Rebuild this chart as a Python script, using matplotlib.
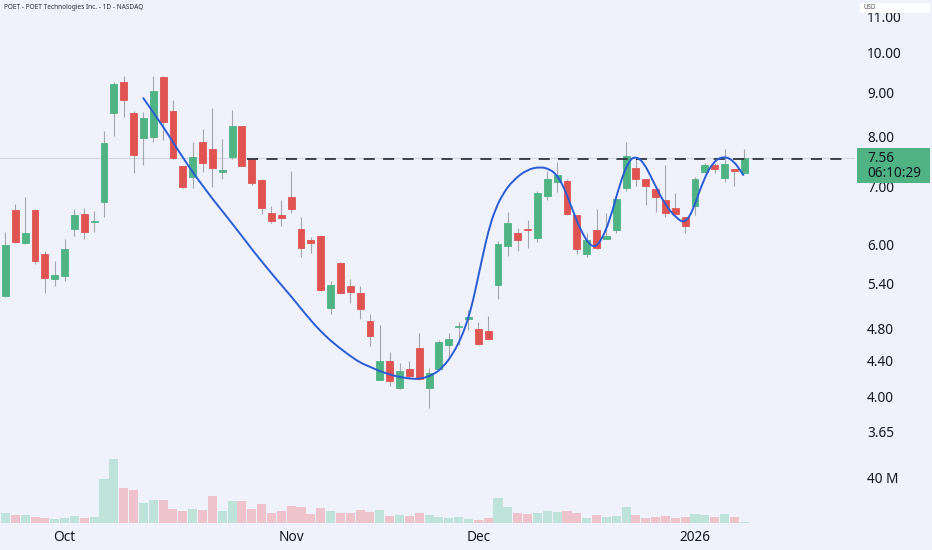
import matplotlib
matplotlib.use("Agg")
import matplotlib.pyplot as plt
from matplotlib.patches import Rectangle, PathPatch
from matplotlib.path import Path
import numpy as np

plt.rcParams['font.family'] = ['Noto Sans', 'DejaVu Sans']
plt.rcParams['lines.scale_dashes'] = False

# ---------------- data ----------------
opens = [5.23, 6.57, 6.03, 6.58, 5.85, 5.47, 5.52, 6.25, 6.50, 6.37,
         6.72, 8.52, 9.26, 8.51, 7.97, 7.99, 9.37, 8.55, 7.39, 7.19,
         7.89, 7.73, 7.27, 7.57, 8.22, 7.53, 7.12, 6.53, 6.49, 6.81,
         6.25, 6.07, 6.13, 5.07, 5.71, 5.37, 5.27, 4.89, 4.18, 4.40,
         4.09, 4.31, 4.55, 4.09, 4.30, 4.59, 4.81, 4.92, 4.79, 4.77,
         5.38, 5.97, 6.19, 6.25, 6.10, 6.82, 7.08, 7.10, 6.49, 5.85,
         6.24, 6.09, 6.23, 6.98, 7.36, 7.15, 6.95, 6.75, 6.61, 6.45,
         6.65, 7.28, 7.42, 7.17, 7.33, 7.26]
highs = [6.20, 6.68, 6.81, 6.59, 5.90, 5.74, 6.09, 6.59, 6.62, 6.56,
         8.11, 9.25, 9.41, 8.55, 8.53, 9.41, 9.41, 8.82, 7.39, 7.89,
         8.16, 8.64, 7.95, 8.59, 8.23, 7.55, 7.14, 6.65, 6.75, 7.30,
         6.46, 6.12, 6.14, 5.44, 5.72, 5.47, 5.37, 4.98, 4.84, 4.51,
         4.37, 4.40, 4.74, 4.32, 4.65, 4.74, 4.88, 5.04, 4.88, 4.96,
         6.06, 6.55, 6.27, 6.41, 6.92, 7.30, 7.47, 7.15, 6.49, 6.19,
         6.59, 6.52, 6.81, 7.89, 7.55, 7.15, 6.95, 7.41, 6.88, 6.45,
         7.18, 7.46, 7.46, 7.73, 7.33, 7.73]
lows = [5.22, 6.02, 6.01, 5.70, 5.27, 5.37, 5.44, 6.13, 6.08, 6.21,
        6.45, 8.01, 8.43, 7.26, 7.41, 7.89, 7.92, 7.53, 6.97, 6.98,
        7.28, 7.00, 7.14, 7.53, 7.39, 7.03, 6.51, 6.35, 6.30, 6.52,
        5.80, 5.87, 5.30, 4.98, 5.26, 5.13, 4.92, 4.58, 4.18, 4.11,
        4.08, 4.19, 4.18, 3.88, 4.29, 4.41, 4.59, 4.78, 4.59, 4.66,
        5.19, 5.82, 5.90, 5.95, 6.04, 6.75, 6.90, 6.49, 5.85, 5.80,
        5.92, 6.09, 6.18, 6.91, 7.02, 6.66, 6.55, 6.46, 6.51, 6.19,
        6.49, 7.27, 7.26, 7.09, 7.02, 7.24]
closes = [5.99, 6.04, 6.19, 5.74, 5.48, 5.53, 5.93, 6.49, 6.21, 6.39,
          7.87, 9.21, 8.82, 7.61, 8.41, 9.03, 8.32, 7.56, 6.99, 7.58,
          7.45, 7.36, 7.31, 8.23, 7.40, 7.06, 6.62, 6.38, 6.44, 6.59,
          5.94, 6.03, 5.31, 5.39, 5.27, 5.28, 5.05, 4.70, 4.40, 4.17,
          4.28, 4.23, 4.19, 4.26, 4.63, 4.67, 4.83, 4.94, 4.60, 4.67,
          6.00, 6.36, 6.07, 6.23, 6.89, 7.14, 7.22, 6.50, 5.93, 6.07,
          5.95, 6.13, 6.77, 7.60, 7.14, 7.01, 6.80, 6.53, 6.51, 6.31,
          7.15, 7.42, 7.33, 7.44, 7.29, 7.56]
volumes_m = [8.6, 6.8, 7.4, 5.6, 4.1, 3.3, 4.4, 6.2, 4.4, 5.3,
             38.8, 56.9, 31.1, 29.0, 18.1, 20.1, 20.4, 12.7, 10.7, 12.1,
             11.6, 24.3, 11.0, 19.3, 19.9, 12.1, 16.9, 9.2, 10.7, 15.1,
             14.2, 8.0, 13.3, 11.0, 8.9, 8.9, 11.3, 9.8, 11.3, 6.2,
             7.4, 6.5, 8.6, 6.8, 5.3, 4.7, 5.0, 3.9, 3.0, 4.4,
             21.9, 14.5, 8.9, 7.7, 9.2, 10.4, 9.5, 10.7, 9.2, 4.4,
             6.8, 5.0, 6.2, 13.9, 7.4, 4.7, 5.0, 5.9, 4.1, 5.0,
             8.0, 6.8, 5.6, 8.0, 5.3, 0.6]

month_pos = [6, 29, 48, 70]
month_labels = ["Oct", "Nov", "Dec", "2026"]
price_ticks = [11.00, 10.00, 9.00, 8.00, 7.00, 6.00, 5.40, 4.80, 4.40, 4.00, 3.65]

# hand-drawn curve annotation: control points (candle index, price)
curve_x = [13.99, 15.69, 17.38, 19.07, 21.10, 23.13, 25.16, 27.19,
           30.91, 31.93, 32.94, 33.96, 34.97, 35.99, 37.01, 38.02, 39.37, 40.73,
           42.08, 43.43, 44.45, 45.46, 46.31, 46.99, 47.49, 48.00, 48.51, 49.01,
           49.70, 50.54, 51.55, 52.91, 54.26, 55.28, 55.96, 56.60, 57.31, 58.32,
           59.51, 60.36, 61.37, 62.39, 63.23, 63.91, 64.75, 65.77, 66.95, 68.14,
           68.98, 69.83, 70.84, 71.86, 72.87, 73.88, 74.90]
curve_p = [8.86, 8.32, 7.75, 7.25, 6.75, 6.32, 5.89, 5.52,
           4.91, 4.77, 4.65, 4.55, 4.46, 4.38, 4.33, 4.28, 4.23, 4.20,
           4.19, 4.24, 4.33, 4.49, 4.69, 4.93, 5.18, 5.51, 5.86, 6.21,
           6.58, 6.88, 7.12, 7.32, 7.38, 7.33, 7.22, 7.02, 6.70, 6.24,
           5.94, 6.02, 6.40, 7.06, 7.48, 7.59, 7.48, 7.09, 6.67, 6.43,
           6.35, 6.58, 7.12, 7.48, 7.59, 7.51, 7.22]

resistance = 7.54
resistance_start = 24.5
last_price = 7.56

# ---------------- styling ----------------
BG = "#eff2fb"
GREEN = "#4fb383"
RED = "#df5450"
WICK = "#a3a6ad"
VGREEN = "#bfe3da"
VRED = "#eec3cb"
TXT = "#131722"
FS = 9.8

W, H = 932, 550
fig = plt.figure(figsize=(W / 100, H / 100), dpi=100, facecolor=BG)

ax_right_px, ax_bottom_px = 855, 526
pos = [0, 1 - ax_bottom_px / H, ax_right_px / W, ax_bottom_px / H]

axv = fig.add_axes(pos)
axv.set_facecolor(BG)
ax = fig.add_axes(pos)
ax.patch.set_alpha(0)

n = len(opens)
x = np.arange(n)
up = [c >= o for o, c in zip(opens, closes)]

# volume
axv.bar(x, volumes_m, width=0.92, color=[VGREEN if u else VRED for u in up],
        linewidth=0, zorder=1)
axv.set_xlim(-0.558, 86.24)
axv.set_ylim(-2.67, 464.9)
axv.yaxis.tick_right()
axv.set_yticks([40])
axv.set_yticklabels(["40 M"])
axv.tick_params(axis='y', length=0, pad=8.6, labelsize=FS, labelcolor=TXT)
axv.tick_params(axis='x', length=0, labelbottom=False)
for s in axv.spines.values():
    s.set_visible(False)

# price
ax.set_yscale('log')
ax.set_xlim(-0.558, 86.24)
ax.set_ylim(2.834, 11.507)

ax.axhline(last_price, color="#d3d7e0", linewidth=0.8, zorder=1)

ax.vlines(x, lows, highs, color=WICK, linewidth=0.8, zorder=2)
bottoms = [min(o, c) for o, c in zip(opens, closes)]
heights = [max(abs(c - o), 0.01) for o, c in zip(opens, closes)]
cols = [GREEN if u else RED for u in up]
ax.bar(x, heights, bottom=bottoms, width=0.7, color=cols, edgecolor=cols,
       linewidth=0.6, zorder=3)

ax.hlines(resistance, resistance_start, 85.2, colors="#2f343f", linewidth=1.3,
          linestyles=(0, (8, 6)), zorder=4)

# smooth curve: quadratic Bezier segments through the control points
verts = [(curve_x[0], curve_p[0])]
codes = [Path.MOVETO]
for k in range(1, len(curve_x) - 1):
    verts.append((curve_x[k], curve_p[k]))
    verts.append(((curve_x[k] + curve_x[k + 1]) / 2, (curve_p[k] + curve_p[k + 1]) / 2))
    codes += [Path.CURVE3, Path.CURVE3]
verts.append((curve_x[-1], curve_p[-1]))
codes.append(Path.LINETO)
ax.add_patch(PathPatch(Path(verts, codes), facecolor='none', edgecolor="#2a5bd7",
                       linewidth=1.4, zorder=5, capstyle='round', joinstyle='round'))

ax.yaxis.tick_right()
ax.yaxis.set_minor_locator(matplotlib.ticker.NullLocator())
ax.set_yticks(price_ticks)
ax.set_yticklabels([f"{p:.2f}" for p in price_ticks])
ax.tick_params(axis='y', which='both', length=0, pad=8.6, labelsize=FS, labelcolor=TXT)
ax.set_xticks(month_pos)
ax.set_xticklabels(month_labels)
ax.tick_params(axis='x', length=0, pad=3, labelsize=FS, labelcolor=TXT)
ax.get_xticklabels()[-1].set_fontweight('bold')
for s in ax.spines.values():
    s.set_visible(False)

# last price label box
fig.add_artist(Rectangle((857 / W, 1 - 182.7 / H), 73 / W, 34.4 / H,
                         transform=fig.transFigure, facecolor=GREEN,
                         edgecolor='none', zorder=5))
fig.text(867 / W, 1 - 158.3 / H, "7.56", fontsize=FS, color=TXT,
         va='center', ha='left', zorder=6)
fig.text(867 / W, 1 - 173.5 / H, "06:10:29", fontsize=FS, color=TXT,
         va='center', ha='left', zorder=6)

# currency box
fig.add_artist(Rectangle((860 / W, 1 - 12.7 / H), 70 / W, 10 / H,
                         transform=fig.transFigure, facecolor='white',
                         edgecolor='none', zorder=5))
fig.text(864 / W, 1 - 7.8 / H, "USD", fontsize=4.5, color="#50535e",
         va='center', ha='left', zorder=6)

# title
fig.text(4 / W, 1 - 7.5 / H, "POET - POET Technologies Inc. - 1D - NASDAQ",
         fontsize=4.7, color="#2a2e39", fontweight='semibold',
         va='center', ha='left')

fig.savefig("out.png", dpi=100, facecolor=BG)
